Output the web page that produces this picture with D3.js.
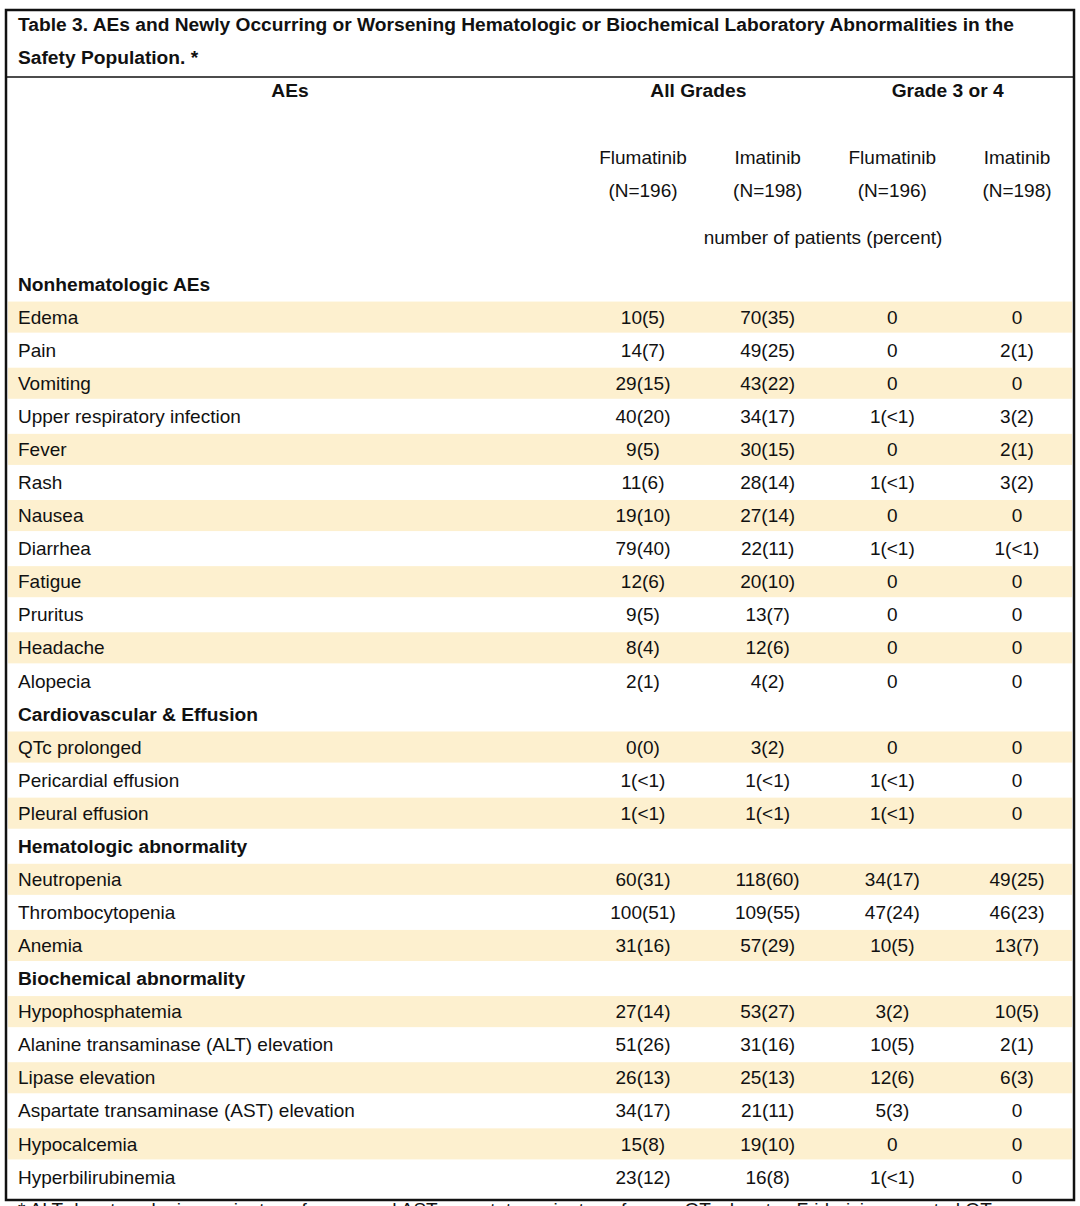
<!DOCTYPE html>
<html><head><meta charset="utf-8">
<script src="https://cdn.jsdelivr.net/npm/d3@7"></script>
<style>html,body{margin:0;padding:0;background:#fff;overflow:hidden}</style>
</head><body><svg id="c" width="1080" height="1206"></svg>
<script>
const titleLines = ["Table 3. AEs and Newly Occurring or Worsening Hematologic or Biochemical Laboratory Abnormalities in the", "Safety Population. *"];
const groupHeaders = ["All Grades", "Grade 3 or 4"];
const drugs = ["Flumatinib", "Imatinib", "Flumatinib", "Imatinib"];
const ns = ["(N=196)", "(N=198)", "(N=196)", "(N=198)"];
const categories = ["Nonhematologic AEs","Edema","Pain","Vomiting","Upper respiratory infection","Fever","Rash","Nausea","Diarrhea","Fatigue","Pruritus","Headache","Alopecia","Cardiovascular & Effusion","QTc prolonged","Pericardial effusion","Pleural effusion","Hematologic abnormality","Neutropenia","Thrombocytopenia","Anemia","Biochemical abnormality","Hypophosphatemia","Alanine transaminase (ALT) elevation","Lipase elevation","Aspartate transaminase (AST) elevation","Hypocalcemia","Hyperbilirubinemia"];
const isSection = [1,0,0,0,0,0,0,0,0,0,0,0,0,1,0,0,0,1,0,0,0,1,0,0,0,0,0,0];
const isShaded  = [0,1,0,1,0,1,0,1,0,1,0,1,0,0,1,0,1,0,1,0,1,0,1,0,1,0,1,0];
const flumAll = ["","10(5)","14(7)","29(15)","40(20)","9(5)","11(6)","19(10)","79(40)","12(6)","9(5)","8(4)","2(1)","","0(0)","1(<1)","1(<1)","","60(31)","100(51)","31(16)","","27(14)","51(26)","26(13)","34(17)","15(8)","23(12)"];
const imaAll  = ["","70(35)","49(25)","43(22)","34(17)","30(15)","28(14)","27(14)","22(11)","20(10)","13(7)","12(6)","4(2)","","3(2)","1(<1)","1(<1)","","118(60)","109(55)","57(29)","","53(27)","31(16)","25(13)","21(11)","19(10)","16(8)"];
const flumG34 = ["","0","0","0","1(<1)","0","1(<1)","0","1(<1)","0","0","0","0","","0","1(<1)","1(<1)","","34(17)","47(24)","10(5)","","3(2)","10(5)","12(6)","5(3)","0","1(<1)"];
const imaG34  = ["","0","2(1)","0","3(2)","2(1)","3(2)","0","1(<1)","0","0","0","0","","0","0","0","","49(25)","46(23)","13(7)","","10(5)","2(1)","6(3)","0","0","0"];
const unitLabel = "number of patients (percent)";
const footnote = "* ALT denotes alanine aminotransferase, and AST aspartate aminotransferase, QTc denotes Fridericia-corrected QT";

const svg = d3.select("#c");
const font = "'Liberation Sans', Arial, sans-serif";
const L = 6, R = 1074, T = 10, B = 1200;
const fs = 19;
const fsb = 19.2;

const y = d3.scaleBand().domain(d3.range(categories.length)).range([267.5, 1193.5]).paddingInner(0);
const x = d3.scalePoint().domain(d3.range(4)).range([643, 1017]);

// shading
svg.append("g").selectAll("rect").data(categories.map((c,i)=>i).filter(i=>isShaded[i])).join("rect")
  .attr("x", L+2).attr("width", R-L-4)
  .attr("y", i => y(i)+1).attr("height", y.bandwidth()-2)
  .attr("fill", "#fdf0cf");

const T0 = svg.append("g").attr("font-family", font).attr("fill", "#111");

// title
T0.selectAll("text.title").data(titleLines).join("text").attr("class","title")
  .attr("x", 18).attr("y", (d,i)=> 24 + i*33).attr("dy","0.35em")
  .attr("font-size", fsb).attr("font-weight","bold").text(d=>d);

// header
T0.append("text").attr("x", 290).attr("y", 90).attr("dy","0.35em").attr("text-anchor","middle")
  .attr("font-size", fsb).attr("font-weight","bold").text("AEs");
T0.selectAll("text.grp").data(groupHeaders).join("text").attr("class","grp")
  .attr("x", (d,i)=> (x(i*2)+x(i*2+1))/2 - 7).attr("y", 90).attr("dy","0.35em").attr("text-anchor","middle")
  .attr("font-size", fsb).attr("font-weight","bold").text(d=>d);
T0.selectAll("text.drug").data(drugs).join("text").attr("class","drug")
  .attr("x", (d,i)=>x(i)).attr("y", 157).attr("dy","0.35em").attr("text-anchor","middle")
  .attr("font-size", fs).text(d=>d);
T0.selectAll("text.n").data(ns).join("text").attr("class","n")
  .attr("x", (d,i)=>x(i)).attr("y", 190).attr("dy","0.35em").attr("text-anchor","middle")
  .attr("font-size", fs).text(d=>d);
T0.append("text").attr("x", 823).attr("y", 237).attr("dy","0.35em").attr("text-anchor","middle")
  .attr("font-size", fs).text(unitLabel);

// rows
const rows = T0.append("g");
rows.selectAll("text.lab").data(categories).join("text").attr("class","lab")
  .attr("x", 18).attr("y", (d,i)=> y(i)+y.bandwidth()/2).attr("dy","0.35em")
  .attr("font-size", (d,i)=> isSection[i] ? fsb : fs).attr("font-weight", (d,i)=> isSection[i] ? "bold" : "normal").text(d=>d);
const cols = [flumAll, imaAll, flumG34, imaG34];
cols.forEach((arr, ci) => {
  rows.append("g").selectAll("text").data(arr).join("text")
    .attr("x", x(ci)).attr("y", (d,i)=> y(i)+y.bandwidth()/2).attr("dy","0.35em")
    .attr("text-anchor","middle").attr("font-size", fs).text(d=>d);
});

// borders
const g = svg.append("g").attr("stroke","#111").attr("fill","none");
g.append("rect").attr("x", L).attr("y", T).attr("width", R-L).attr("height", B-T).attr("stroke-width", 2.5);
g.append("line").attr("x1", L).attr("x2", R).attr("y1", 77).attr("y2", 77).attr("stroke-width", 1.5);

// footnote (clipped at page bottom, as in the source image)
T0.append("text").attr("x", 18).attr("y", 1216).attr("font-size", fs).text(footnote);
</script></body></html>
